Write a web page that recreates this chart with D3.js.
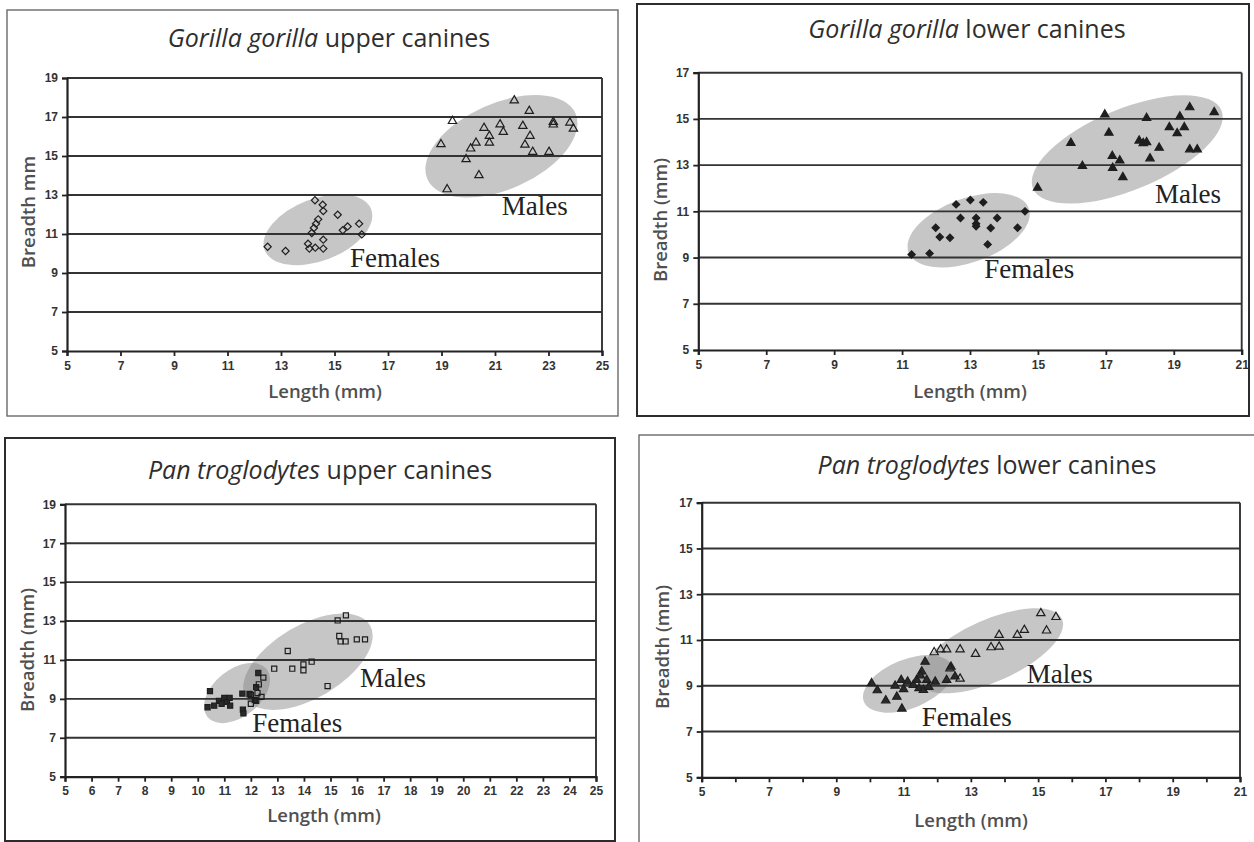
<!DOCTYPE html>
<html>
<head>
<meta charset="utf-8">
<script src="https://cdn.jsdelivr.net/npm/d3@7"></script>
<style>
  body { margin: 0; background: #fff; }
  svg { display: block; }
</style>
</head>
<body>
<svg id="fig" width="1254" height="842"></svg>
<script>
// Canine length / breadth measurements (mm), [length, breadth]

const gorillaUpperFemales = [
  [12.5,10.35],[13.17,10.13],[14.27,12.73],[14.56,12.5],[14.58,12.18],[14.39,11.75],
  [14.31,11.53],[14.23,11.31],[14.15,11.05],[14.01,10.5],[14.06,10.25],[14.28,10.3],
  [14.58,10.25],[14.58,10.71],[15.12,11.99],[15.31,11.19],[15.49,11.39],[15.92,11.53],
  [16.02,10.98]
];
const gorillaUpperMales = [
  [21.72,17.85],[22.28,17.31],[19.41,16.79],[18.98,15.6],[20.59,16.44],[21.19,16.62],
  [21.31,16.23],[20.79,16.03],[20.79,15.68],[20.29,15.68],[20.09,15.38],[19.92,14.83],
  [20.4,14.01],[19.21,13.29],[22.04,16.54],[22.31,16.03],[22.12,15.58],[22.41,15.21],
  [23.02,15.21],[23.18,16.74],[23.18,16.61],[23.8,16.71],[23.93,16.4]
];

const gorillaLowerFemales = [
  [11.28,9.13],[11.81,9.18],[11.99,10.29],[12.11,9.89],[12.41,9.86],[12.59,11.3],
  [13.01,11.49],[13.39,11.39],[12.72,10.71],[13.18,10.71],[13.18,10.46],[13.18,10.35],
  [13.61,10.28],[13.8,10.71],[13.52,9.57],[14.4,10.29],[14.62,11.0]
];
const gorillaLowerMales = [
  [14.99,12.02],[15.97,13.96],[16.31,12.96],[16.97,15.19],[17.09,14.4],[17.19,13.39],
  [17.41,13.2],[17.2,12.88],[17.5,12.48],[17.98,14.06],[18.1,13.95],[18.2,13.99],
  [18.2,15.04],[18.3,13.29],[18.57,13.75],[18.87,14.64],[19.1,14.38],[19.31,14.64],
  [19.18,15.1],[19.47,15.5],[19.47,13.68],[19.69,13.68],[20.19,15.29]
];

const panUpperFemales = [
  [10.37,8.57],[10.46,9.4],[10.62,8.65],[10.8,8.9],[10.9,8.75],[11.0,9.05],
  [11.1,8.85],[11.2,9.05],[11.22,8.65],[11.68,9.27],[11.7,8.45],[11.72,8.25],
  [11.95,9.25],[12.15,8.95],[12.28,10.33],[12.2,9.6]
];
const panUpperMales = [
  [15.27,13.03],[15.58,13.29],[15.33,12.23],[15.38,11.95],[15.57,11.95],[15.99,12.06],
  [16.3,12.06],[13.39,11.46],[12.88,10.55],[13.56,10.55],[13.98,10.77],[13.98,10.47],
  [14.29,10.91],[14.89,9.66],[12.47,10.09],[12.3,9.75],[12.0,9.2],[12.25,9.3],
  [12.0,8.75],[12.2,8.9],[12.4,9.1]
];

const panLowerFemales = [
  [10.05,9.11],[10.22,8.8],[10.47,8.36],[10.8,8.52],[10.95,8.0],[10.75,9.0],
  [10.93,9.25],[11.12,9.18],[11.0,8.85],[11.29,9.03],[11.46,8.89],[11.59,8.81],
  [11.64,10.05],[11.54,9.62],[11.39,9.25],[11.69,9.25],[11.94,9.18],[12.28,9.25],
  [12.41,9.83],[12.53,9.4],[11.5,9.45],[11.75,8.95]
];
const panLowerMales = [
  [15.08,12.17],[15.53,12.0],[15.25,11.41],[14.59,11.44],[14.38,11.22],[13.84,11.22],
  [13.84,10.71],[13.6,10.68],[13.14,10.39],[12.68,10.59],[12.28,10.59],[12.1,10.59],
  [11.91,10.46],[12.68,9.31],[12.38,9.76]
];

// Axis ticks
const ticksUpperX = [5,7,9,11,13,15,17,19,21,23,25];
const ticksUpperY = [5,7,9,11,13,15,17,19];
const ticksLowerX = [5,7,9,11,13,15,17,19,21];
const ticksLowerY = [5,7,9,11,13,15,17];
const ticksPanUpperX = d3.range(5, 26);
const ticksPanLowerXMinor = d3.range(5, 22);

const groupLabels = ["Females", "Males"];

// Panel layout (pixels) and styling
const panels = [
  {
    genus: "Gorilla gorilla", jaw: " upper canines", yTitle: "Breadth mm",
    females: gorillaUpperFemales, males: gorillaUpperMales,
    femaleShape: "diamond", maleShape: "triangle", femaleFill: "none", maleFill: "none",
    box: [7, 10, 618, 416], plot: [67, 78, 602, 351],
    xDomain: [5, 25], yDomain: [5, 19],
    xTicks: ticksUpperX, xLabels: ticksUpperX, yTicks: ticksUpperY,
    titleAt: [329, 47], xTitleAt: [325, 398], yTitleAt: [35, 212],
    boxStroke: "#6a6a6a", boxWidth: 1.4,
    ellipses: [
      { cx: 14.38, cy: 11.22, rx: 57, ry: 31, tilt: 21 },
      { cx: 21.24, cy: 15.5, rx: 81, ry: 43, tilt: 24 }
    ],
    labelAt: [[15.58, 9.32], [21.25, 11.97]]
  },
  {
    genus: "Gorilla gorilla", jaw: " lower canines", yTitle: "Breadth (mm)",
    females: gorillaLowerFemales, males: gorillaLowerMales,
    femaleShape: "diamond", maleShape: "triangle", femaleFill: "#1e1e1e", maleFill: "#1e1e1e",
    box: [637, 4, 1249, 416], plot: [698.3, 72.7, 1241.7, 350],
    xDomain: [5, 21], yDomain: [5, 17],
    xTicks: ticksLowerX, xLabels: ticksLowerX, yTicks: ticksLowerY,
    titleAt: [967, 38], xTitleAt: [970, 398], yTitleAt: [667, 220],
    boxStroke: "#2c2c2c", boxWidth: 2,
    ellipses: [
      { cx: 12.96, cy: 10.18, rx: 64, ry: 32, tilt: 20 },
      { cx: 17.63, cy: 13.68, rx: 102, ry: 40.5, tilt: 22.5 }
    ],
    labelAt: [[13.42, 8.1], [18.45, 11.36]]
  },
  {
    genus: "Pan troglodytes", jaw: " upper canines", yTitle: "Breadth (mm)",
    females: panUpperFemales, males: panUpperMales,
    femaleShape: "square", maleShape: "square", femaleFill: "#2a2a2a", maleFill: "none",
    box: [5, 438, 615, 841], plot: [65, 504.3, 596, 776.7],
    xDomain: [5, 25], yDomain: [5, 19],
    xTicks: ticksPanUpperX, xLabels: ticksPanUpperX, yTicks: ticksUpperY,
    titleAt: [320, 479], xTitleAt: [324, 822], yTitleAt: [34, 650],
    boxStroke: "#2c2c2c", boxWidth: 2,
    ellipses: [
      { cx: 11.48, cy: 9.3, rx: 38, ry: 23.5, tilt: 39 },
      { cx: 14.15, cy: 10.91, rx: 72, ry: 36.5, tilt: 30.5 }
    ],
    labelAt: [[12.05, 7.31], [16.11, 9.63]]
  },
  {
    genus: "Pan troglodytes", jaw: " lower canines", yTitle: "Breadth (mm)",
    females: panLowerFemales, males: panLowerMales,
    femaleShape: "triangle", maleShape: "triangle", femaleFill: "#2a2a2a", maleFill: "none",
    box: [639, 435, 1258, 848], plot: [701.7, 502.7, 1240, 777.3],
    xDomain: [5, 21], yDomain: [5, 17],
    xTicks: ticksPanLowerXMinor, xLabels: ticksLowerX, yTicks: ticksLowerY,
    titleAt: [987, 474], xTitleAt: [971, 827], yTitleAt: [669, 647],
    boxStroke: "#6a6a6a", boxWidth: 1.4,
    ellipses: [
      { cx: 11.13, cy: 9.08, rx: 47.5, ry: 24.5, tilt: 22 },
      { cx: 13.59, cy: 10.53, rx: 78, ry: 31, tilt: 24 }
    ],
    labelAt: [[11.54, 7.24], [14.66, 9.13]]
  }
];

const svg = d3.select("#fig");

const symbolFor = {
  diamond: d3.symbol().type(d3.symbolSquare).size(26),
  triangle: d3.symbol().type(d3.symbolTriangle).size(30),
  square: d3.symbol().type(d3.symbolSquare).size(26)
};

function drawPanel(p) {
  const g = svg.append("g");
  const [bx0, by0, bx1, by1] = p.box;
  const [px0, py0, px1, py1] = p.plot;

  const x = d3.scaleLinear().domain(p.xDomain).range([px0, px1]);
  const y = d3.scaleLinear().domain(p.yDomain).range([py1, py0]);

  // outer frame
  g.append("rect")
    .attr("x", bx0).attr("y", by0)
    .attr("width", bx1 - bx0).attr("height", by1 - by0)
    .attr("fill", "#fff")
    .attr("stroke", p.boxStroke).attr("stroke-width", p.boxWidth);

  // title: italic genus + plain description
  const title = g.append("text")
    .attr("x", p.titleAt[0]).attr("y", p.titleAt[1])
    .attr("text-anchor", "middle")
    .attr("font-family", "'Open Sans', sans-serif")
    .attr("font-size", 25)
    .attr("fill", "#2e2e2e");
  title.append("tspan").attr("font-style", "italic").text(p.genus);
  title.append("tspan").text(p.jaw);

  // cluster ellipses
  g.append("g").selectAll("ellipse")
    .data(p.ellipses)
    .join("ellipse")
    .attr("transform", d => `translate(${x(d.cx)},${y(d.cy)}) rotate(${-d.tilt})`)
    .attr("rx", d => d.rx).attr("ry", d => d.ry)
    .attr("fill", "#808080").attr("fill-opacity", 0.45);

  // horizontal gridlines
  g.append("g").selectAll("line")
    .data(p.yTicks.filter(v => v > p.yDomain[0]))
    .join("line")
    .attr("x1", px0).attr("x2", px1)
    .attr("y1", d => y(d)).attr("y2", d => y(d))
    .attr("stroke", "#333").attr("stroke-width", 1.9);

  // right edge of the plotting area
  g.append("line")
    .attr("x1", px1).attr("x2", px1).attr("y1", py0).attr("y2", py1)
    .attr("stroke", "#333").attr("stroke-width", 1.9);

  // axes
  const yAxis = d3.axisLeft(y).tickValues(p.yTicks).tickSize(5).tickPadding(4).tickFormat(d3.format("d"));
  const xAxis = d3.axisBottom(x).tickValues(p.xTicks).tickSize(5).tickPadding(5)
    .tickFormat(v => p.xLabels.includes(v) ? d3.format("d")(v) : "");

  const gy = g.append("g").attr("transform", `translate(${px0},0)`).call(yAxis);
  const gx = g.append("g").attr("transform", `translate(0,${py1})`).call(xAxis);
  [gx, gy].forEach(a => {
    a.select(".domain").attr("stroke", "#222").attr("stroke-width", 2.2);
    a.selectAll(".tick line").attr("stroke", "#222").attr("stroke-width", 1.8);
    a.selectAll(".tick text")
      .attr("font-family", "'Liberation Sans', Arial, sans-serif")
      .attr("font-weight", "bold")
      .attr("font-size", 12)
      .attr("fill", "#333");
  });

  // axis titles
  g.append("text")
    .attr("x", p.xTitleAt[0]).attr("y", p.xTitleAt[1])
    .attr("text-anchor", "middle")
    .attr("font-family", "'Open Sans', sans-serif")
    .attr("font-weight", 600)
    .attr("font-size", 18.5)
    .attr("fill", "#505050")
    .text("Length (mm)");
  g.append("text")
    .attr("transform", `translate(${p.yTitleAt[0]},${p.yTitleAt[1]}) rotate(-90)`)
    .attr("text-anchor", "middle")
    .attr("font-family", "'Open Sans', sans-serif")
    .attr("font-weight", 600)
    .attr("font-size", 18.5)
    .attr("fill", "#505050")
    .text(p.yTitle);

  // measurement markers
  const series = [
    { pts: p.females, shape: p.femaleShape, fill: p.femaleFill },
    { pts: p.males, shape: p.maleShape, fill: p.maleFill }
  ];
  series.forEach(s => {
    g.append("g").selectAll("path")
      .data(s.pts)
      .join("path")
      .attr("d", symbolFor[s.shape])
      .attr("transform", d => `translate(${x(d[0])},${y(d[1])})` + (s.shape === "diamond" ? " rotate(45)" : ""))
      .attr("fill", s.fill)
      .attr("stroke", "#1e1e1e")
      .attr("stroke-width", 1.2);
  });

  // group labels
  g.append("g").selectAll("text")
    .data(groupLabels)
    .join("text")
    .attr("x", (d, i) => x(p.labelAt[i][0]))
    .attr("y", (d, i) => y(p.labelAt[i][1]))
    .attr("font-family", "'Liberation Serif', 'Times New Roman', serif")
    .attr("font-size", 27)
    .attr("fill", "#222")
    .text(d => d);
}

panels.forEach(drawPanel);
</script>
</body>
</html>
